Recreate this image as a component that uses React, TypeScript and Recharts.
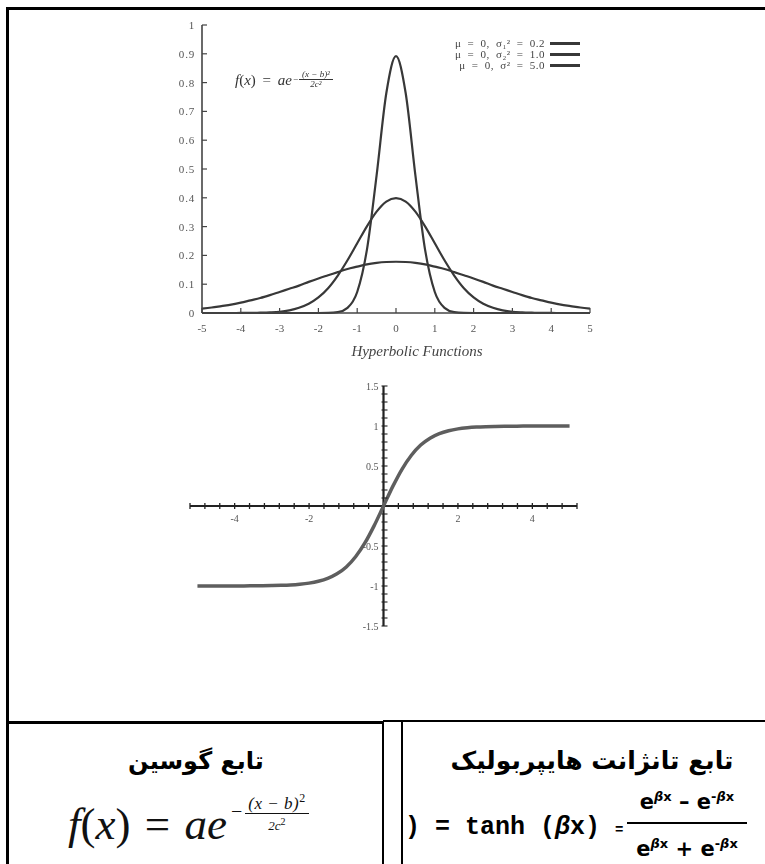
import React from "react";
import {
  LineChart,
  ComposedChart,
  Line,
  Scatter,
  XAxis,
  YAxis,
  ReferenceLine,
  Legend,
} from "recharts";

// sample positions shared by every curve
const xValues = [
  -5, -4.75, -4.5, -4.25, -4, -3.75, -3.5, -3.25, -3, -2.75, -2.5, -2.25, -2,
  -1.75, -1.5, -1.25, -1, -0.75, -0.5, -0.25, 0, 0.25, 0.5, 0.75, 1, 1.25, 1.5,
  1.75, 2, 2.25, 2.5, 2.75, 3, 3.25, 3.5, 3.75, 4, 4.25, 4.5, 4.75, 5,
];

// gaussian curves, sigma^2 = 0.2 / 1.0 / 5.0
const gaussNarrow = [
  0, 0, 0, 0, 0, 0, 0, 0, 0, 0, 0, 0, 0, 0.0004, 0.003, 0.018, 0.073, 0.219,
  0.478, 0.763, 0.892, 0.763, 0.478, 0.219, 0.073, 0.018, 0.003, 0.0004, 0, 0,
  0, 0, 0, 0, 0, 0, 0, 0, 0, 0, 0,
];
const gaussStandard = [
  0, 0, 0, 0, 0.0001, 0.0004, 0.001, 0.002, 0.004, 0.009, 0.018, 0.032, 0.054,
  0.086, 0.13, 0.183, 0.242, 0.301, 0.352, 0.387, 0.399, 0.387, 0.352, 0.301,
  0.242, 0.183, 0.13, 0.086, 0.054, 0.032, 0.018, 0.009, 0.004, 0.002, 0.001,
  0.0004, 0.0001, 0, 0, 0, 0,
];
const gaussWide = [
  0.015, 0.019, 0.024, 0.029, 0.036, 0.044, 0.052, 0.062, 0.073, 0.084, 0.095,
  0.108, 0.12, 0.131, 0.142, 0.153, 0.161, 0.169, 0.174, 0.177, 0.178, 0.177,
  0.174, 0.169, 0.161, 0.153, 0.142, 0.131, 0.12, 0.108, 0.095, 0.084, 0.073,
  0.062, 0.052, 0.044, 0.036, 0.029, 0.024, 0.019, 0.015,
];

// hyperbolic tangent
const tanhValues = [
  -1, -1, -1, -1, -0.999, -0.999, -0.998, -0.997, -0.995, -0.992, -0.987,
  -0.978, -0.964, -0.941, -0.905, -0.848, -0.762, -0.635, -0.462, -0.245, 0,
  0.245, 0.462, 0.635, 0.762, 0.848, 0.905, 0.941, 0.964, 0.978, 0.987, 0.992,
  0.995, 0.997, 0.998, 0.999, 0.999, 1, 1, 1, 1,
];

const seriesNames = ["μ = 0, σ₁² = 0.2", "μ = 0, σ₂² = 1.0", "μ = 0, σ² = 5.0"];

const gaussXTicks = [-5, -4, -3, -2, -1, 0, 1, 2, 3, 4, 5];
const gaussYTicks = [0, 0.1, 0.2, 0.3, 0.4, 0.5, 0.6, 0.7, 0.8, 0.9, 1];

const tanhXMinorTicks = [
  -5.2, -4.8, -4.4, -4, -3.6, -3.2, -2.8, -2.4, -2, -1.6, -1.2, -0.8, -0.4, 0.4,
  0.8, 1.2, 1.6, 2, 2.4, 2.8, 3.2, 3.6, 4, 4.4, 4.8, 5.2,
];
const tanhXLabels = [-4, -2, 2, 4];
const tanhYMinorTicks = [
  -1.5, -1.4, -1.3, -1.2, -1.1, -1, -0.9, -0.8, -0.7, -0.6, -0.5, -0.4, -0.3,
  -0.2, -0.1, 0.1, 0.2, 0.3, 0.4, 0.5, 0.6, 0.7, 0.8, 0.9, 1, 1.1, 1.2, 1.3,
  1.4, 1.5,
];
const tanhYLabels = [1.5, 1, 0.5, -0.5, -1, -1.5];

const gaussData = xValues.map((x, i) => ({
  x,
  narrow: gaussNarrow[i],
  standard: gaussStandard[i],
  wide: gaussWide[i],
}));
const tanhData = xValues.map((x, i) => ({ x, y: tanhValues[i] }));
const xTickData = tanhXMinorTicks.map((x) => ({ x, y: 0 }));
const xLabelData = tanhXLabels.map((x) => ({ x, y: 0 }));
const yTickData = tanhYMinorTicks.map((y) => ({ x: 0, y }));
const yLabelData = tanhYLabels.map((y) => ({ x: 0, y }));

const INK = "#444";
const LABEL = "#555";
const SERIF = "'Liberation Serif', 'DejaVu Serif', serif";
const TICK = 5;
const MARGIN = 10;

// frame ticks point inward, labels sit outside
function BottomTick({ x, y, payload }: any) {
  const axisY = y - MARGIN;
  return (
    <g>
      <line x1={x} x2={x} y1={axisY} y2={axisY - TICK} stroke={INK} strokeWidth={1.2} />
      <text x={x} y={axisY + 19} textAnchor="middle" fontSize={11} fill={LABEL} fontFamily={SERIF}>
        {payload.value}
      </text>
    </g>
  );
}

function TopTick({ x, y }: any) {
  const axisY = y + MARGIN;
  return <line x1={x} x2={x} y1={axisY} y2={axisY + TICK} stroke={INK} strokeWidth={1.2} />;
}

function LeftTick({ x, y, payload }: any) {
  const axisX = x + MARGIN;
  return (
    <g>
      <line x1={axisX} x2={axisX + TICK} y1={y} y2={y} stroke={INK} strokeWidth={1.2} />
      <text
        x={axisX - 7}
        y={y + 4}
        textAnchor="end"
        fontSize={11}
        letterSpacing={0.8}
        fill={LABEL}
        fontFamily={SERIF}
      >
        {payload.value}
      </text>
    </g>
  );
}

function RightTick({ x, y }: any) {
  const axisX = x - MARGIN;
  return <line x1={axisX} x2={axisX - TICK} y1={y} y2={y} stroke={INK} strokeWidth={1.2} />;
}

function GaussLegend({ payload }: any) {
  // keep the series order instead of the legend's alphabetical sort
  const items = [...(payload || [])].sort(
    (a: any, b: any) => seriesNames.indexOf(a.value) - seriesNames.indexOf(b.value)
  );
  return (
    <div
      style={{
        fontFamily: SERIF,
        fontSize: 11,
        letterSpacing: 0.5,
        wordSpacing: 3,
        color: INK,
        lineHeight: "11px",
        whiteSpace: "nowrap",
      }}
    >
      {items.map((p: any) => (
        <div
          key={p.value}
          style={{ display: "flex", alignItems: "center", justifyContent: "flex-end" }}
        >
          <span>{p.value}</span>
          <span
            style={{
              display: "inline-block",
              width: 30,
              height: 2.5,
              background: p.color,
              marginLeft: 5,
            }}
          />
        </div>
      ))}
    </div>
  );
}

function GaussianChart() {
  return (
    <LineChart
      width={765}
      height={340}
      data={gaussData}
      margin={{ top: 25, right: 175, bottom: 7, left: 162 }}
    >
      <XAxis
        xAxisId="bottom"
        dataKey="x"
        type="number"
        domain={[-5, 5]}
        ticks={gaussXTicks}
        interval={0}
        height={20}
        tickSize={0}
        tickMargin={MARGIN}
        tickLine={false}
        axisLine={{ stroke: INK, strokeWidth: 1.6 }}
        tick={BottomTick}
      />
      <XAxis
        xAxisId="top"
        orientation="top"
        dataKey="x"
        type="number"
        domain={[-5, 5]}
        ticks={gaussXTicks}
        interval={0}
        height={0}
        tickSize={0}
        tickMargin={MARGIN}
        tickLine={false}
        axisLine={{ stroke: INK, strokeWidth: 1.6 }}
        tick={TopTick}
      />
      <YAxis
        yAxisId="left"
        type="number"
        domain={[0, 1]}
        ticks={gaussYTicks}
        interval={0}
        width={40}
        tickSize={0}
        tickMargin={MARGIN}
        tickLine={false}
        axisLine={{ stroke: INK, strokeWidth: 1.6 }}
        tick={LeftTick}
      />
      <YAxis
        yAxisId="right"
        orientation="right"
        type="number"
        domain={[0, 1]}
        ticks={gaussYTicks}
        interval={0}
        width={0}
        tickSize={0}
        tickMargin={MARGIN}
        tickLine={false}
        axisLine={{ stroke: INK, strokeWidth: 1.6 }}
        tick={RightTick}
      />
      <Legend
        layout="vertical"
        align="center"
        verticalAlign="middle"
        content={GaussLegend}
        wrapperStyle={{ left: 400, top: 38, width: 180 }}
      />
      <Line
        xAxisId="bottom"
        yAxisId="left"
        dataKey="narrow"
        name={seriesNames[0]}
        type="monotone"
        stroke="#383838"
        strokeWidth={2.2}
        dot={false}
        isAnimationActive={false}
      />
      <Line
        xAxisId="bottom"
        yAxisId="left"
        dataKey="standard"
        name={seriesNames[1]}
        type="monotone"
        stroke="#383838"
        strokeWidth={2.2}
        dot={false}
        isAnimationActive={false}
      />
      <Line
        xAxisId="bottom"
        yAxisId="left"
        dataKey="wide"
        name={seriesNames[2]}
        type="monotone"
        stroke="#383838"
        strokeWidth={2.2}
        dot={false}
        isAnimationActive={false}
      />
    </LineChart>
  );
}

const AXIS = "#222";

function XTickMark({ cx, cy }: any) {
  return <line x1={cx} x2={cx} y1={cy - 3} y2={cy + 3} stroke={AXIS} strokeWidth={1.3} />;
}
function YTickMark({ cx, cy }: any) {
  return <line x1={cx - 2} x2={cx + 4} y1={cy} y2={cy} stroke={AXIS} strokeWidth={1.1} />;
}
function XTickLabel({ cx, cy, payload }: any) {
  return (
    <text x={cx} y={cy + 16} textAnchor="middle" fontSize={10} fill={LABEL} fontFamily={SERIF}>
      {payload.x}
    </text>
  );
}
function YTickLabel({ cx, cy, payload }: any) {
  return (
    <text x={cx - 5} y={cy + 3.5} textAnchor="end" fontSize={10} fill={LABEL} fontFamily={SERIF}>
      {payload.y}
    </text>
  );
}

function TanhChart() {
  return (
    <ComposedChart
      width={765}
      height={270}
      margin={{ top: 16, right: 188, bottom: 14, left: 190 }}
    >
      <XAxis dataKey="x" type="number" domain={[-5.2, 5.2]} hide />
      <YAxis dataKey="y" type="number" domain={[-1.5, 1.5]} hide />
      <ReferenceLine y={0} stroke={AXIS} strokeWidth={2.2} />
      <ReferenceLine x={0} stroke={AXIS} strokeWidth={2.2} />
      <Scatter data={xTickData} shape={XTickMark} isAnimationActive={false} />
      <Scatter data={yTickData} shape={YTickMark} isAnimationActive={false} />
      <Scatter data={xLabelData} shape={XTickLabel} isAnimationActive={false} />
      <Scatter data={yLabelData} shape={YTickLabel} isAnimationActive={false} />
      <Line
        data={tanhData}
        dataKey="y"
        type="monotone"
        stroke="#5e5e5e"
        strokeWidth={3.5}
        dot={false}
        isAnimationActive={false}
      />
    </ComposedChart>
  );
}

const abs = (s: React.CSSProperties): React.CSSProperties => ({ position: "absolute", ...s });

export default function App() {
  return (
    <div
      style={abs({
        left: 0,
        top: 0,
        width: 765,
        height: 864,
        background: "#fff",
        overflow: "hidden",
      })}
    >
      {/* outer frame and table rules */}
      <div style={abs({ left: 6, top: 7, width: 770, height: 3, background: "#000" })} />
      <div style={abs({ left: 6, top: 7, width: 3, height: 870, background: "#000" })} />
      <div style={abs({ left: 6, top: 721, width: 378, height: 3, background: "#000" })} />
      <div style={abs({ left: 383, top: 720, width: 390, height: 2, background: "#000" })} />
      <div style={abs({ left: 382, top: 721, width: 2, height: 150, background: "#000" })} />
      <div style={abs({ left: 401, top: 720, width: 2, height: 150, background: "#000" })} />

      <div style={abs({ left: 0, top: 0, filter: "blur(0.45px)" })}>
        <GaussianChart />
        <div
          style={abs({
            left: 235,
            top: 70,
            display: "flex",
            alignItems: "flex-start",
            fontFamily: SERIF,
            color: "#333",
            whiteSpace: "nowrap",
          })}
        >
          <span style={{ fontSize: 15, wordSpacing: 3, marginTop: 2 }}>
            <i>f</i>(<i>x</i>) = <i>ae</i>
          </span>
          <span
            style={{
              display: "flex",
              alignItems: "center",
              fontSize: 9,
              lineHeight: "9px",
              textAlign: "center",
              fontStyle: "italic",
            }}
          >
            <span style={{ fontStyle: "normal", margin: "0 1px" }}>−</span>
            <span>
              <span style={{ display: "block", borderBottom: "0.6px solid #333", padding: "0 3px" }}>
                (x − b)²
              </span>
              <span style={{ display: "block" }}>2c²</span>
            </span>
          </span>
        </div>
        <div
          style={abs({
            left: 317,
            top: 343,
            width: 200,
            textAlign: "center",
            fontFamily: SERIF,
            fontStyle: "italic",
            fontSize: 15,
            color: INK,
          })}
        >
          Hyperbolic Functions
        </div>
      </div>

      <div style={abs({ left: 0, top: 370, filter: "blur(0.45px)" })}>
        <TanhChart />
      </div>

      {/* bottom table: gaussian */}
      <div
        dir="rtl"
        style={abs({
          left: 9,
          top: 743,
          width: 374,
          textAlign: "center",
          fontFamily: "'DejaVu Sans', sans-serif",
          fontWeight: 700,
          fontSize: 24,
          lineHeight: "36px",
        })}
      >
        تابع گوسین
      </div>
      <div
        style={abs({
          left: 68,
          top: 799,
          fontFamily: SERIF,
          fontSize: 45,
          lineHeight: "50px",
          wordSpacing: 3,
          whiteSpace: "nowrap",
          color: "#111",
        })}
      >
        <i>f</i>(<i>x</i>) = <i>ae</i>
      </div>
      <div
        style={abs({
          left: 231,
          top: 789,
          display: "flex",
          alignItems: "center",
          fontFamily: SERIF,
          color: "#111",
        })}
      >
        <span style={{ fontSize: 20, marginRight: 3 }}>−</span>
        <span style={{ textAlign: "center", fontStyle: "italic" }}>
          <span
            style={{
              display: "block",
              fontSize: 17,
              lineHeight: "18px",
              borderBottom: "1.5px solid #111",
              padding: "0 3px",
              letterSpacing: 0.5,
              whiteSpace: "nowrap",
            }}
          >
            (x − b)<sup style={{ fontSize: 12, fontStyle: "normal" }}>2</sup>
          </span>
          <span style={{ display: "block", fontSize: 13, lineHeight: "16px" }}>
            2c<sup style={{ fontSize: 10, fontStyle: "normal" }}>2</sup>
          </span>
        </span>
      </div>

      {/* bottom table: hyperbolic tangent */}
      <div
        dir="rtl"
        style={abs({
          left: 422,
          top: 743,
          width: 340,
          textAlign: "center",
          fontFamily: "'DejaVu Sans', sans-serif",
          fontWeight: 700,
          fontSize: 25,
          lineHeight: "36px",
        })}
      >
        تابع تانژانت هایپربولیک
      </div>
      <div
        style={abs({
          left: 405,
          top: 813,
          fontFamily: "'Liberation Mono', monospace",
          fontWeight: 700,
          fontSize: 25,
          lineHeight: "30px",
          whiteSpace: "pre",
          color: "#000",
        })}
      >
        {") = tanh ("}
        <i>β</i>
        {"x) "}
        <span style={{ fontSize: 14 }}>=</span>
      </div>
      <div
        style={abs({
          left: 627,
          top: 783,
          width: 120,
          textAlign: "center",
          fontFamily: "'DejaVu Sans', sans-serif",
          fontWeight: 700,
          fontSize: 21,
          color: "#000",
          whiteSpace: "nowrap",
        })}
      >
        <div style={{ borderBottom: "2px solid #000", lineHeight: "28px", paddingBottom: 6 }}>
          e<sup style={{ fontSize: 13 }}><i>β</i>x</sup> – e<sup style={{ fontSize: 13 }}>-<i>β</i>x</sup>
        </div>
        <div style={{ lineHeight: "28px", paddingTop: 6 }}>
          e<sup style={{ fontSize: 13 }}><i>β</i>x</sup> + e<sup style={{ fontSize: 13 }}>-<i>β</i>x</sup>
        </div>
      </div>
    </div>
  );
}
